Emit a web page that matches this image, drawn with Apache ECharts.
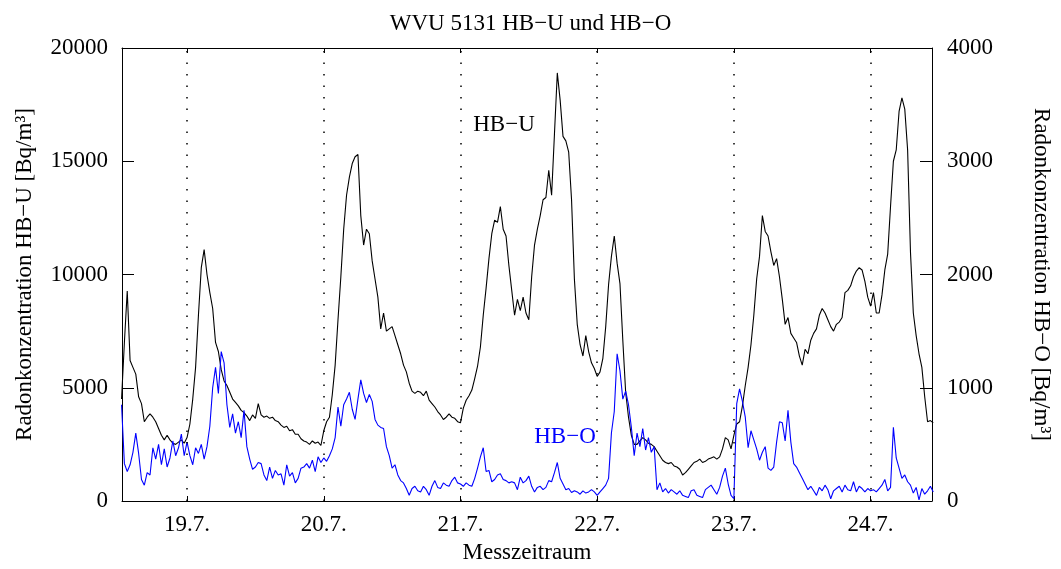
<!DOCTYPE html>
<html><head><meta charset="utf-8">
<script src="https://cdn.jsdelivr.net/npm/echarts@6/dist/echarts.min.js"></script>
<style>html,body{margin:0;padding:0;background:#fff}#c{width:1061px;height:569px}</style>
</head><body><div id="c"></div>
<script>
// time axis: hours relative to 19.7. 00:00, one reading every half hour
const startHour = -11.5;
const stepHours = 0.5;

// HB-U radon concentration [Bq/m³] (left axis)
const hbU = [
4500,7000,9270,6200,5900,5600,4600,4300,3500,3700,
3850,3700,3500,3200,2900,2700,2900,2700,2550,2500,
2600,2700,2550,2800,3400,4500,5900,8200,10300,11100,
10000,9200,8500,7000,6600,5800,5300,5100,4800,4500,
4350,4200,4000,3900,3750,3550,3800,3650,4300,3800,
3700,3750,3650,3700,3550,3500,3350,3250,3300,3100,
3150,2950,2950,2750,2650,2600,2500,2650,2550,2600,
2450,3100,3500,3700,4700,6000,8000,9900,12000,13500,
14300,14900,15200,15300,12600,11300,12000,11800,10600,9800,
9000,7600,8300,7500,7600,7700,7300,6900,6500,6000,
5700,5200,4850,4750,4850,4800,4650,4850,4450,4300,
4150,3950,3800,3600,3700,3850,3700,3650,3500,3450,
4100,4450,4650,4900,5400,5950,6800,8200,9400,10700,
11800,12400,12300,13000,12000,11700,10400,9300,8200,8900,
8400,9000,8300,8000,9900,11300,12000,12600,13300,13400,
14600,13500,16200,18900,17700,16100,15900,15400,13300,9800,
7800,6900,6400,7300,6600,6100,5850,5500,5700,6300,
7700,9550,10800,11700,10500,9600,7100,4800,3700,2900,
2500,2500,2650,2800,2700,2550,2500,2400,2200,2000,
1800,1700,1650,1700,1550,1500,1400,1150,1250,1400,
1550,1700,1750,1850,1700,1750,1850,1900,1950,1850,
1950,2300,2800,2700,2300,2900,3400,3500,4200,5100,
5900,6900,8200,9800,10800,12600,11900,11700,11000,10400,
10700,9900,8900,7800,8100,7400,7200,7000,6400,6000,
6700,6500,7100,7400,7600,8200,8500,8300,8000,7700,
7500,7800,7900,8100,9200,9300,9500,9900,10150,10300,
10200,9700,9000,8600,9200,8300,8300,9100,10200,10900,
13000,15000,15500,17200,17800,17300,15500,11000,8300,7300,
6500,5900,4600,3500,3550,3450
];

// HB-O radon concentration [Bq/m³] (right axis)
const hbO = [
850,330,260,320,430,600,420,190,140,250,
230,470,370,500,320,460,300,380,530,400,
470,590,400,520,400,320,470,420,500,370,
480,660,1000,1180,950,1320,1220,850,650,770,
600,700,560,800,480,370,280,300,340,330,
230,180,300,200,270,230,240,140,320,220,
250,160,200,290,300,330,290,360,260,390,
340,380,350,400,460,560,830,660,850,900,
960,810,720,900,1070,950,870,940,880,720,
670,650,640,480,400,290,320,230,180,160,
110,50,110,130,90,80,130,100,50,130,
180,120,110,160,140,130,180,210,160,150,
130,160,140,130,200,290,390,470,260,270,
170,190,230,240,190,180,160,170,160,100,
210,160,180,220,130,80,120,130,100,120,
180,170,250,340,200,150,100,110,75,90,
80,60,90,70,80,100,80,50,80,110,
140,200,600,790,1300,1150,900,970,850,650,
400,600,480,640,450,560,430,480,100,160,
80,110,70,100,80,60,90,50,40,30,
90,100,50,40,30,100,120,140,100,60,
120,220,290,150,50,20,860,990,880,740,
470,620,540,460,360,430,480,290,270,300,
520,700,690,530,800,520,330,300,250,200,
150,100,130,90,50,120,90,140,100,20,
90,110,130,80,140,100,90,170,80,130,
110,80,110,90,100,80,110,140,190,90,
120,650,380,290,200,230,170,140,70,120,
10,110,60,90,130,80
];

const dayTicks = [0, 24, 48, 72, 96, 120];
const dayLabels = ['19.7.', '20.7.', '21.7.', '22.7.', '23.7.', '24.7.'];
const timeMin = -11.42, timeMax = 130.78;

const FONT = "'Liberation Serif','DejaVu Serif',serif";
const FS = 23;

const chart = echarts.init(document.getElementById('c'), null, {renderer: 'canvas'});
const toPairs = arr => arr.map((v, i) => [startHour + i * stepHours, v]);

const axisLine = {show: true, onZero: false, lineStyle: {color: '#000', width: 1}};
const txt = {fontFamily: FONT, fontSize: FS, color: '#000'};
const plain = v => String(v);

chart.setOption({
  animation: false,
  backgroundColor: '#fff',
  title: {
    text: 'WVU 5131 HB−U und HB−O', left: 'center', top: 7,
    textStyle: {fontFamily: FONT, fontSize: FS, fontWeight: 'normal', color: '#000'}
  },
  grid: {left: 122, right: 126, top: 48, bottom: 64, containLabel: false},
  xAxis: [{
    type: 'value', position: 'bottom', min: timeMin, max: timeMax,
    name: 'Messzeitraum', nameLocation: 'middle', nameGap: 40,
    nameTextStyle: txt,
    axisLine: axisLine,
    axisTick: {inside: true, length: 5, customValues: dayTicks, lineStyle: {color: '#000'}},
    axisLabel: Object.assign({customValues: dayTicks, margin: 12,
      formatter: v => dayLabels[dayTicks.indexOf(v)] || ''}, txt),
    splitLine: {show: false}
  }, {
    type: 'value', position: 'top', min: timeMin, max: timeMax,
    axisLine: axisLine,
    axisTick: {inside: true, length: 5, customValues: dayTicks, lineStyle: {color: '#000'}},
    axisLabel: {show: false},
    splitLine: {show: false}
  }],
  yAxis: [{
    type: 'value', position: 'left', min: 0, max: 20000, interval: 5000,
    name: 'Radonkonzentration HB−U [Bq/m³]', nameLocation: 'middle', nameGap: 86,
    nameTextStyle: txt,
    axisLine: axisLine,
    axisTick: {inside: true, length: 12, lineStyle: {color: '#000'}},
    axisLabel: Object.assign({margin: 14, formatter: plain}, txt),
    splitLine: {show: false}
  }, {
    type: 'value', position: 'right', min: 0, max: 4000, interval: 1000,
    name: 'Radonkonzentration HB−O [Bq/m³]', nameLocation: 'middle', nameGap: 98, nameRotate: -90,
    nameTextStyle: txt,
    axisLine: axisLine,
    axisTick: {inside: true, length: 12, lineStyle: {color: '#000'}},
    axisLabel: Object.assign({margin: 15, formatter: plain}, txt),
    splitLine: {show: false}
  }],
  graphic: [
    {type: 'text', x: 504, y: 125, style: {text: 'HB−U', align: 'center', verticalAlign: 'middle', font: FS + 'px ' + FONT, fill: '#000'}},
    {type: 'text', x: 565, y: 437, style: {text: 'HB−O', align: 'center', verticalAlign: 'middle', font: FS + 'px ' + FONT, fill: '#0000ff'}}
  ],
  series: [{
    name: 'HB−U', type: 'line', xAxisIndex: 0, yAxisIndex: 0,
    data: toPairs(hbU), showSymbol: false, symbol: 'none', clip: true,
    lineStyle: {color: '#000', width: 1.1}, itemStyle: {color: '#000'},
    markLine: {
      silent: true, symbol: ['none', 'none'], label: {show: false},
      lineStyle: {color: '#000', width: 1.5, type: [1.5, 10]},
      data: dayTicks.map(v => ({xAxis: v}))
    }
  }, {
    name: 'HB−O', type: 'line', xAxisIndex: 0, yAxisIndex: 1,
    data: toPairs(hbO), showSymbol: false, symbol: 'none', clip: true,
    lineStyle: {color: '#0000ff', width: 1.1}, itemStyle: {color: '#0000ff'}
  }]
});
</script>
</body></html>
